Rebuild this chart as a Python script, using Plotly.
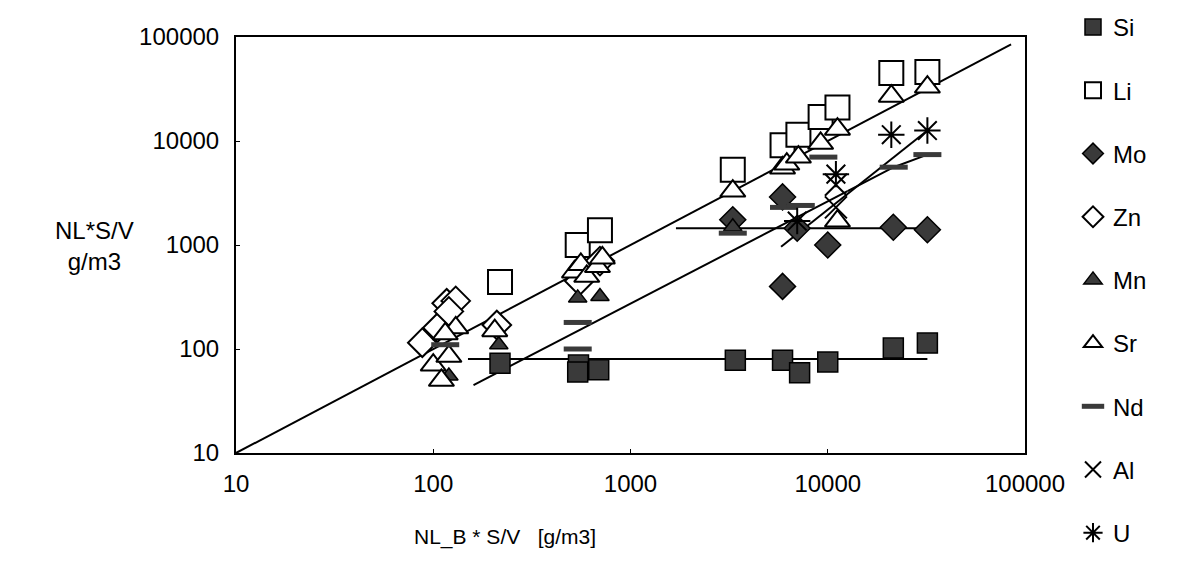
import plotly.graph_objects as go

# ---------------- data ----------------
si_x = [218, 545, 540, 690, 3400, 5900, 7200, 10000, 21500, 32000]
si_y = [73, 70, 60, 63, 78, 78, 59, 75, 102, 114]

li_x = [218, 540, 700, 3300, 5900, 7100, 9200, 11200, 21000, 32000]
li_y = [440, 1000, 1390, 5300, 9100, 11500, 17000, 21000, 45000, 46000]

mo_x = [3300, 5900, 5900, 7000, 10000, 21500, 32000]
mo_y = [1750, 2900, 400, 1450, 1000, 1480, 1400]

zn_x = [88, 105, 117, 130, 120, 210, 550, 700]
zn_y = [115, 160, 275, 290, 230, 170, 450, 700]

mn_x = [120, 215, 540, 700, 3300]
mn_y = [55, 110, 310, 320, 1500]

sr_x = [100, 110, 120, 130, 115, 205, 520, 560, 600, 680, 720, 3300, 5900, 6200,
        7100, 9200, 11200, 11200, 21000, 32000]
sr_y = [70, 50, 85, 160, 140, 150, 550, 650, 500, 620, 750, 3300, 5500, 6000,
        7000, 9500, 13000, 1700, 27000, 33000]

nd_x = [115, 540, 540, 3300, 6000, 7300, 9500, 21600, 32000]
nd_y = [110, 180, 100, 1300, 2300, 2400, 7000, 5600, 7400]

al_x = [11000, 11000]
al_y = [3800, 2300]

u_x = [7000, 11000, 21000, 32000]
u_y = [1700, 4800, 11500, 12600]

# model lines
b_line_x = [10, 85000]
b_line_y = [10, 85000]
si_line_x = [150, 32000]
si_line_y = [80, 80]
mo_line_x = [1700, 32000]
mo_line_y = [1450, 1450]
low_line_x = [160, 12600]
low_line_y = [45, 3300]
u_line_x = [5800, 32000]
u_line_y = [960, 12600]
nd_line_x = [12600, 21600, 32000]
nd_line_y = [3300, 5600, 7400]

# in-plot labels
lab_text = ["B", "U", "Nd", "Mo", "Si"]
lab_x = [42000, 42000, 51000, 57000, 37000]
lab_y = [70000, 17800, 10200, 1390, 73]

FONT = "Liberation Sans, Arial, sans-serif"
DARK = "#3a3a3a"

fig = go.Figure()

for lx, ly in [(b_line_x, b_line_y), (si_line_x, si_line_y), (mo_line_x, mo_line_y),
               (low_line_x, low_line_y), (u_line_x, u_line_y), (nd_line_x, nd_line_y)]:
    fig.add_trace(go.Scatter(x=lx, y=ly, mode="lines", line=dict(color="black", width=2),
                             showlegend=False, hoverinfo="skip"))

series = [
    ("Si", si_x, si_y, dict(symbol="square", size=20, color=DARK, line=dict(color="black", width=1.5))),
    ("Li", li_x, li_y, dict(symbol="square", size=24, color="white", line=dict(color="black", width=2))),
    ("Mo", mo_x, mo_y, dict(symbol="diamond", size=20, color=DARK, line=dict(color="black", width=1.5))),
    ("Zn", zn_x, zn_y, dict(symbol="diamond", size=22, color="white", line=dict(color="black", width=2))),
    ("Mn", mn_x, mn_y, dict(symbol="triangle-up", size=16, color=DARK, line=dict(color="black", width=1.5))),
    ("Sr", sr_x, sr_y, dict(symbol="triangle-up", size=22, color="white", line=dict(color="black", width=2))),
    ("Nd", nd_x, nd_y, dict(symbol="line-ew", size=20, color=DARK, line=dict(color=DARK, width=5))),
    ("Al", al_x, al_y, dict(symbol="x-thin", size=22, color="black", line=dict(color="black", width=2))),
    ("U", u_x, u_y, dict(symbol="asterisk", size=22, color="black", line=dict(color="black", width=2))),
]
for i, (name, xs, ys, mk) in enumerate(series):
    fig.add_trace(go.Scatter(x=xs, y=ys, mode="markers", name=name, marker=mk,
                             legendgroup=name, cliponaxis=False))

for t, x, y in zip(lab_text, lab_x, lab_y):
    fig.add_annotation(x=x, y=y, xref="x", yref="y", text=t, showarrow=False,
                       xanchor="left", font=dict(size=24, color="black", family=FONT))

fig.add_annotation(text="NL_B * S/V   [g/m3]", x=(505 - 236) / 789, y=-(537 - 453) / 416,
                   xref="paper", yref="paper", showarrow=False, yanchor="middle",
                   font=dict(size=21, color="black", family=FONT))
fig.add_annotation(text="NL*S/V<br>g/m3", x=(53 - 236) / 789, y=(453 - 246) / 416,
                   xref="paper", yref="paper", showarrow=False, yanchor="middle",
                   font=dict(size=24, color="black", family=FONT))

axis_common = dict(type="log", range=[1, 5], showgrid=False, zeroline=False,
                   showline=True, linecolor="black", linewidth=2, mirror=True,
                   ticks="inside", ticklen=4, tickcolor="black",
                   tickvals=[10, 100, 1000, 10000, 100000],
                   ticktext=["10", "100", "1000", "10000", "100000"],
                   tickfont=dict(size=24, color="black", family=FONT))
fig.update_xaxes(**axis_common, ticklabelstandoff=8)
fig.update_yaxes(**axis_common, ticklabelstandoff=10)

fig.update_layout(
    width=1198, height=561, autosize=False,
    margin=dict(l=236, r=173, t=37, b=108, autoexpand=False),
    paper_bgcolor="white", plot_bgcolor="white",
    font=dict(family=FONT, color="black"),
    legend=dict(x=(1073 - 236) / 789, y=1 + (37 - 5) / 416, xanchor="left", yanchor="top",
                font=dict(size=24, family=FONT, color="black"),
                tracegroupgap=29, bgcolor="rgba(0,0,0,0)", maxheight=561),
)

fig.write_html("out.html")
